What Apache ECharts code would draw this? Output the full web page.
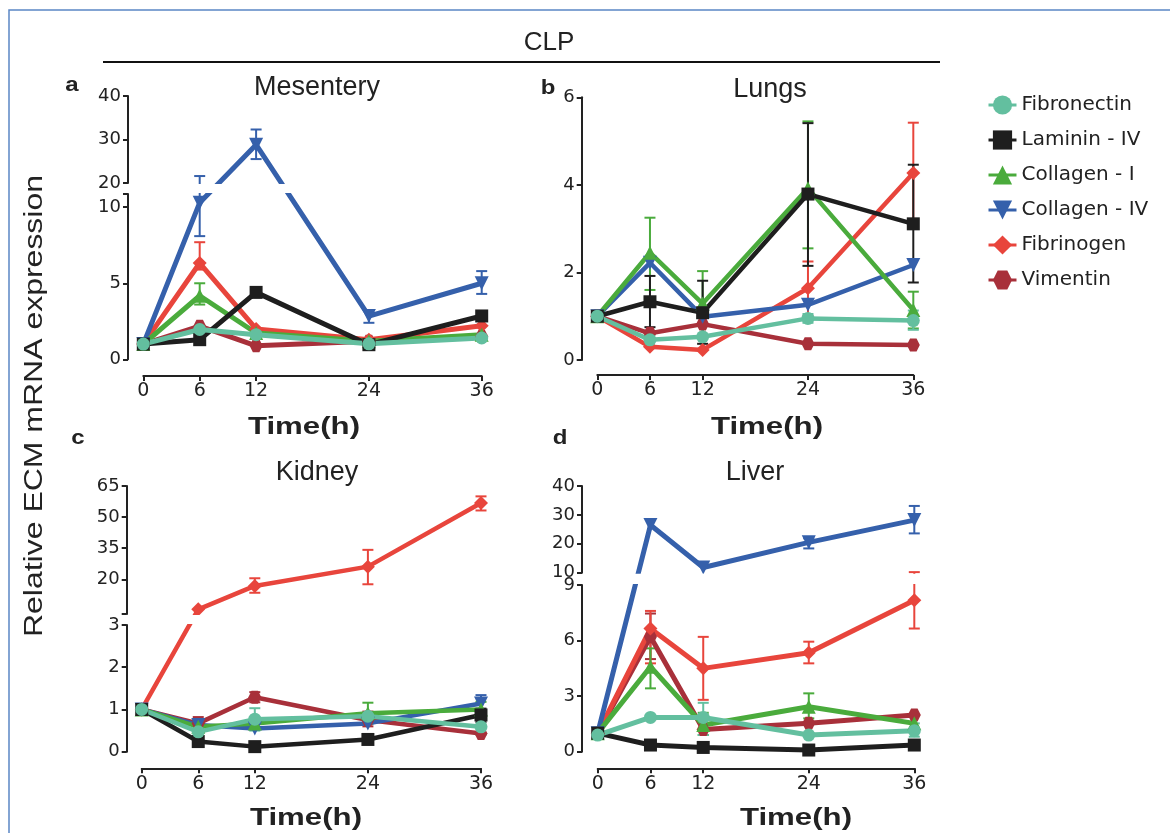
<!DOCTYPE html>
<html>
<head>
<meta charset="utf-8">
<script src="https://cdn.jsdelivr.net/npm/echarts@6/dist/echarts.min.js"></script>
<style>html,body{margin:0;padding:0;background:#fff}#chart{width:1170px;height:833px}</style>
</head>
<body>
<div id="chart"></div>
<script>
// ---------- DATA ----------
const TIME_POINTS = [0, 6, 12, 24, 36];
const X_TICK_LABELS = [0, 6, 12, 24, 36];
const GENES = ['Fibronectin', 'Laminin - IV', 'Collagen - I', 'Collagen - IV', 'Fibrinogen', 'Vimentin'];

// Mesentery (a)
const MES_UPPER_TICKS = [20, 30, 40];
const MES_LOWER_TICKS = [0, 5, 10];
const MES_FIBRONECTIN = [1, 1.96, 1.62, 1.02, 1.4];
const MES_FIBRONECTIN_ERR = [null, null, null, null, null];
const MES_LAMININ = [1, 1.29, 4.4, 0.96, 2.85];
const MES_LAMININ_ERR = [null, null, null, null, null];
const MES_COLLAGEN1 = [1, 4.18, 1.73, 1.18, 1.62];
const MES_COLLAGEN1_ERR = [null, [3.6, 5.0], null, null, null];
const MES_COLLAGEN4 = [1, 10.3, 28.8, 2.84, 5.0];
const MES_COLLAGEN4_ERR = [null, [8.1, 21.6], [25.5, 32.3], [2.4, 3.2], [4.3, 5.8]];
const MES_FIBRINOGEN = [1, 6.33, 2.0, 1.29, 2.2];
const MES_FIBRINOGEN_ERR = [null, [5.9, 7.7], null, null, [1.6, 2.8]];
const MES_VIMENTIN = [1, 2.18, 0.89, 1.18, 1.5];
const MES_VIMENTIN_ERR = [null, null, null, null, null];

// Lungs (b)
const LUNG_TICKS = [0, 2, 4, 6];
const LUNG_FIBRONECTIN = [1, 0.46, 0.53, 0.95, 0.9];
const LUNG_FIBRONECTIN_ERR = [null, null, null, [0.85, 1.05], [0.69, 1.13]];
const LUNG_LAMININ = [1, 1.33, 1.08, 3.79, 3.11];
const LUNG_LAMININ_ERR = [null, [0.75, 1.92], [0.37, 1.81], [2.15, 5.41], [1.77, 4.46]];
const LUNG_COLLAGEN1 = [1, 2.45, 1.29, 3.92, 1.14];
const LUNG_COLLAGEN1_ERR = [null, [1.6, 3.25], [0.55, 2.03], [2.55, 5.45], [0.72, 1.56]];
const LUNG_COLLAGEN4 = [1, 2.22, 0.99, 1.26, 2.17];
const LUNG_COLLAGEN4_ERR = [null, null, null, null, null];
const LUNG_FIBRINOGEN = [1, 0.3, 0.23, 1.64, 4.27];
const LUNG_FIBRINOGEN_ERR = [null, null, null, [1.0, 2.25], [3.11, 5.42]];
const LUNG_VIMENTIN = [1, 0.61, 0.82, 0.37, 0.34];
const LUNG_VIMENTIN_ERR = [null, null, null, null, null];

// Kidney (c)
const KID_UPPER_TICKS = [20, 35, 50, 65];
const KID_LOWER_TICKS = [0, 1, 2, 3];
const KID_FIBRONECTIN = [1, 0.47, 0.77, 0.84, 0.59];
const KID_FIBRONECTIN_ERR = [null, null, [0.5, 1.03], null, [0.4, 0.78]];
const KID_LAMININ = [1, 0.24, 0.12, 0.29, 0.87];
const KID_LAMININ_ERR = [null, null, null, null, [0.7, 1.02]];
const KID_COLLAGEN1 = [1, 0.59, 0.67, 0.91, 1.0];
const KID_COLLAGEN1_ERR = [null, null, null, [0.66, 1.16], [0.85, 1.18]];
const KID_COLLAGEN4 = [1, 0.63, 0.55, 0.67, 1.14];
const KID_COLLAGEN4_ERR = [null, null, null, null, [0.95, 1.34]];
const KID_FIBRINOGEN = [1, 5.5, 16.8, 26.1, 56.8];
const KID_FIBRINOGEN_ERR = [null, null, [13.5, 20.5], [17.6, 34.2], [53.2, 60.0]];
const KID_VIMENTIN = [1, 0.67, 1.29, 0.75, 0.43];
const KID_VIMENTIN_ERR = [null, [0.55, 0.82], [1.17, 1.41], [0.6, 0.95], null];

// Liver (d)
const LIV_UPPER_TICKS = [10, 20, 30, 40];
const LIV_LOWER_TICKS = [0, 3, 6, 9];
const LIV_FIBRONECTIN = [0.9, 1.85, 1.85, 0.9, 1.13];
const LIV_FIBRONECTIN_ERR = [null, null, [0.9, 2.64], null, [0.81, 1.53]];
const LIV_LAMININ = [1, 0.36, 0.23, 0.09, 0.36];
const LIV_LAMININ_ERR = [null, null, null, null, null];
const LIV_COLLAGEN1 = [1, 4.59, 1.44, 2.43, 1.53];
const LIV_COLLAGEN1_ERR = [null, [3.42, 5.58], [0.9, 2.1], [1.8, 3.15], [1.1, 1.98]];
const LIV_COLLAGEN4 = [1, 26.5, 11.8, 20.5, 28.2];
const LIV_COLLAGEN4_ERR = [null, null, null, [18.4, 21.9], [23.6, 33.1]];
const LIV_FIBRINOGEN = [1, 6.65, 4.5, 5.34, 8.18];
const LIV_FIBRINOGEN_ERR = [null, [4.77, 7.6], [2.8, 6.2], [4.77, 5.94], [6.65, 10.2]];
const LIV_VIMENTIN = [1, 6.2, 1.2, 1.53, 1.98];
const LIV_VIMENTIN_ERR = [null, [5.0, 7.46], null, null, null];

// ---------- STYLE / LAYOUT ----------
const STYLE = {
  'Fibronectin':   {color: '#63bf9f', symbol: 'circle', rotate: 0, size: 13},
  'Laminin - IV':  {color: '#1e1e1e', symbol: 'rect', rotate: 0, size: 13},
  'Collagen - I':  {color: '#4aab3c', symbol: 'triangle', rotate: 0, size: 14},
  'Collagen - IV': {color: '#3560ab', symbol: 'triangle', rotate: 180, size: 14},
  'Fibrinogen':    {color: '#e8453c', symbol: 'diamond', rotate: 0, size: 14},
  'Vimentin':      {color: '#a8303a', symbol: 'path://M0,5 L3,0 L9,0 L12,5 L9,10 L3,10 Z', rotate: 0, size: 13}
};
const DRAW_ORDER = ['Vimentin', 'Fibrinogen', 'Collagen - IV', 'Collagen - I', 'Laminin - IV', 'Fibronectin'];

const PANEL_DATA = {
  mes: {'Fibronectin': [MES_FIBRONECTIN, MES_FIBRONECTIN_ERR], 'Laminin - IV': [MES_LAMININ, MES_LAMININ_ERR],
        'Collagen - I': [MES_COLLAGEN1, MES_COLLAGEN1_ERR], 'Collagen - IV': [MES_COLLAGEN4, MES_COLLAGEN4_ERR],
        'Fibrinogen': [MES_FIBRINOGEN, MES_FIBRINOGEN_ERR], 'Vimentin': [MES_VIMENTIN, MES_VIMENTIN_ERR]},
  lung: {'Fibronectin': [LUNG_FIBRONECTIN, LUNG_FIBRONECTIN_ERR], 'Laminin - IV': [LUNG_LAMININ, LUNG_LAMININ_ERR],
        'Collagen - I': [LUNG_COLLAGEN1, LUNG_COLLAGEN1_ERR], 'Collagen - IV': [LUNG_COLLAGEN4, LUNG_COLLAGEN4_ERR],
        'Fibrinogen': [LUNG_FIBRINOGEN, LUNG_FIBRINOGEN_ERR], 'Vimentin': [LUNG_VIMENTIN, LUNG_VIMENTIN_ERR]},
  kid: {'Fibronectin': [KID_FIBRONECTIN, KID_FIBRONECTIN_ERR], 'Laminin - IV': [KID_LAMININ, KID_LAMININ_ERR],
        'Collagen - I': [KID_COLLAGEN1, KID_COLLAGEN1_ERR], 'Collagen - IV': [KID_COLLAGEN4, KID_COLLAGEN4_ERR],
        'Fibrinogen': [KID_FIBRINOGEN, KID_FIBRINOGEN_ERR], 'Vimentin': [KID_VIMENTIN, KID_VIMENTIN_ERR]},
  liv: {'Fibronectin': [LIV_FIBRONECTIN, LIV_FIBRONECTIN_ERR], 'Laminin - IV': [LIV_LAMININ, LIV_LAMININ_ERR],
        'Collagen - I': [LIV_COLLAGEN1, LIV_COLLAGEN1_ERR], 'Collagen - IV': [LIV_COLLAGEN4, LIV_COLLAGEN4_ERR],
        'Fibrinogen': [LIV_FIBRINOGEN, LIV_FIBRINOGEN_ERR], 'Vimentin': [LIV_VIMENTIN, LIV_VIMENTIN_ERR]}
};

// segments listed top (upper) to bottom (lower)
const LAYOUT = [
  {id: 'mes', left: 143.3, width: 338.4, axisX: 128, xAxisY: 376, lineW: 5,
   segs: [{top: 96, bottom: 183, min: 20, max: 40, ticks: [20, 30, 40], labels: MES_UPPER_TICKS},
          {top: 194, bottom: 359.3, min: 0, max: 10.87, ticks: [0, 5, 10, 10.87], labels: MES_LOWER_TICKS}]},
  {id: 'lung', left: 597.3, width: 316, axisX: 581.7, xAxisY: 375, lineW: 4.5,
   segs: [{top: 97.3, bottom: 360, min: 0, max: 6, ticks: [0, 2, 4, 6], labels: LUNG_TICKS}]},
  {id: 'kid', left: 141.7, width: 339.3, axisX: 126.7, xAxisY: 768.3, lineW: 4.5,
   segs: [{top: 486, bottom: 614, min: 3.26, max: 65, ticks: [3.26, 20, 35, 50, 65], labels: KID_UPPER_TICKS},
          {top: 625, bottom: 751.7, min: 0, max: 3, ticks: [0, 1, 2, 3], labels: KID_LOWER_TICKS}]},
  {id: 'liv', left: 597.7, width: 316.6, axisX: 582, xAxisY: 768.3, lineW: 5,
   segs: [{top: 486, bottom: 572.7, min: 10, max: 40, ticks: [10, 20, 30, 40], labels: LIV_UPPER_TICKS},
          {top: 585, bottom: 751.7, min: 0, max: 9, ticks: [0, 3, 6, 9], labels: LIV_LOWER_TICKS}]}
];

const AX = '#222';

// Broken-axis scale: maps a value to a height (px) above the panel's lowest segment bottom,
// linear inside each segment (each with its own scale), linear across the break gap.
function makeBrokenScale(p) {
  const segs = p.segs.slice().reverse(); // bottom first
  const base = segs[0].bottom;
  return function (v) {
    for (let i = 0; i < segs.length; i++) {
      const s = segs[i];
      const h0 = base - s.bottom, h1 = base - s.top;
      if (v <= s.max || i === segs.length - 1) {
        if (v >= s.min || i === 0) return h0 + (v - s.min) / (s.max - s.min) * (h1 - h0);
        const prev = segs[i - 1];
        const ph1 = base - prev.top;
        return ph1 + (v - prev.max) / (s.min - prev.max) * (h0 - ph1);
      }
    }
  };
}

function errRender(params, api) {
  const x = api.value(0), lo = api.value(1), hi = api.value(2);
  const a = api.coord([x, lo]), b = api.coord([x, hi]);
  const w = 5.5;
  const st = {stroke: api.visual('color'), lineWidth: 2, fill: null};
  return {type: 'group', children: [
    {type: 'line', shape: {x1: a[0], y1: a[1], x2: b[0], y2: b[1]}, style: st},
    {type: 'line', shape: {x1: b[0] - w, y1: b[1], x2: b[0] + w, y2: b[1]}, style: st},
    {type: 'line', shape: {x1: a[0] - w, y1: a[1], x2: a[0] + w, y2: a[1]}, style: st}
  ]};
}

const grids = [], xAxes = [], yAxes = [], series = [], masks = [];
LAYOUT.forEach(p => {
  // axis-only grids, one per segment, in true value units
  p.segs.forEach(seg => {
    const gi = grids.length;
    grids.push({left: p.left, top: seg.top, width: p.width, height: seg.bottom - seg.top,
                containLabel: false, outerBoundsMode: 'none'});
    xAxes.push({gridIndex: gi, type: 'value', min: 0, max: 36, show: false});
    yAxes.push({gridIndex: gi, type: 'value', min: seg.min, max: seg.max, position: 'left',
      offset: p.left - p.axisX,
      axisLine: {show: true, onZero: false, lineStyle: {color: AX, width: 2}},
      axisTick: {show: true, length: 5, lineStyle: {color: AX, width: 2}, customValues: seg.ticks},
      axisLabel: {show: true, customValues: seg.labels, fontSize: 18, fontFamily: 'DejaVu Sans', color: AX, margin: 7},
      splitLine: {show: false}});
  });
  // plotting grid spanning all segments, broken scale
  const top = p.segs[0].top, bottom = p.segs[p.segs.length - 1].bottom;
  const scale = makeBrokenScale(p);
  const gi = grids.length;
  grids.push({left: p.left, top: top, width: p.width, height: bottom - top, containLabel: false, outerBoundsMode: 'none'});
  xAxes.push({gridIndex: gi, type: 'value', min: 0, max: 36, show: false});
  yAxes.push({gridIndex: gi, type: 'value', min: 0, max: bottom - top, show: false});
  DRAW_ORDER.forEach(gene => {
    const st = STYLE[gene];
    const [vals, errs] = PANEL_DATA[p.id][gene];
    series.push({
      type: 'line', name: gene, xAxisIndex: gi, yAxisIndex: gi,
      data: TIME_POINTS.map((t, i) => [t, scale(vals[i])]),
      symbol: st.symbol, symbolSize: st.size, symbolRotate: st.rotate,
      itemStyle: {color: st.color, borderWidth: 0},
      lineStyle: {color: st.color, width: p.lineW},
      clip: false, animation: false, silent: true, z: 3
    });
    const errData = [];
    errs.forEach((e, i) => { if (e) errData.push([TIME_POINTS[i], scale(e[0]), scale(e[1])]); });
    if (errData.length) {
      series.push({
        type: 'custom', name: gene + ' err', xAxisIndex: gi, yAxisIndex: gi,
        renderItem: errRender, data: errData, itemStyle: {color: st.color},
        encode: {x: 0, y: [1, 2]}, clip: false, animation: false, silent: true, z: 3
      });
    }
  });
  // break gap between segments
  for (let i = 0; i < p.segs.length - 1; i++) {
    const y0 = p.segs[i].bottom + 1, y1 = p.segs[i + 1].top - 1;
    masks.push({type: 'rect', silent: true, z: 100,
      shape: {x: p.axisX + 1.5, y: y0, width: p.left + p.width + 10 - p.axisX, height: y1 - y0},
      style: {fill: '#ffffff'}});
  }
  // detached x axis
  const gx = grids.length;
  grids.push({left: p.left, top: p.xAxisY - 1, width: p.width, height: 1, containLabel: false, outerBoundsMode: 'none'});
  xAxes.push({gridIndex: gx, type: 'value', min: 0, max: 36, position: 'bottom',
    axisLine: {show: true, onZero: false, lineStyle: {color: AX, width: 2}},
    axisTick: {show: true, length: 5, lineStyle: {color: AX, width: 2}, customValues: X_TICK_LABELS},
    axisLabel: {show: true, customValues: X_TICK_LABELS, fontSize: 19, fontFamily: 'DejaVu Sans', color: AX, margin: 6},
    splitLine: {show: false}});
  yAxes.push({gridIndex: gx, type: 'value', show: false});
});

function txt(x, y, text, font, opts) {
  return Object.assign({type: 'text', x: x, y: y, silent: true,
    style: {text: text, font: font, fill: '#222', align: 'center', verticalAlign: 'middle',
            textAlign: 'center', textVerticalAlign: 'middle'}}, opts || {});
}
const F = '"Liberation Sans", Arial, sans-serif';
const graphics = masks.concat([
  {type: 'polyline', silent: true, shape: {points: [[9, 833], [9, 10], [1170, 10]]}, style: {stroke: '#5b86c5', lineWidth: 1.5, fill: null}},
  {type: 'line', silent: true, shape: {x1: 103, y1: 62, x2: 940, y2: 62}, style: {stroke: '#111', lineWidth: 2}},
  txt(549, 43, 'CLP', '26px ' + F),
  txt(72, 85, 'a', 'bold 20px ' + F, {scaleX: 1.2}),
  txt(548, 88, 'b', 'bold 20px ' + F, {scaleX: 1.2}),
  txt(78, 438, 'c', 'bold 20px ' + F, {scaleX: 1.2}),
  txt(560, 438, 'd', 'bold 20px ' + F, {scaleX: 1.2}),
  txt(317, 88, 'Mesentery', '27px ' + F),
  txt(770, 90, 'Lungs', '27px ' + F),
  txt(317, 473, 'Kidney', '27px ' + F),
  txt(755, 473, 'Liver', '27px ' + F),
  txt(304, 427, 'Time(h)', 'bold 24px ' + F, {scaleX: 1.3}),
  txt(767, 427, 'Time(h)', 'bold 24px ' + F, {scaleX: 1.3}),
  txt(306, 818, 'Time(h)', 'bold 24px ' + F, {scaleX: 1.3}),
  txt(796, 818, 'Time(h)', 'bold 24px ' + F, {scaleX: 1.3}),
  txt(35, 406, 'Relative ECM mRNA expression', '26px ' + F, {rotation: Math.PI / 2, scaleX: 1.23})
]);

const chart = echarts.init(document.getElementById('chart'), null, {renderer: 'canvas'});
chart.setOption({
  backgroundColor: '#ffffff',
  animation: false,
  grid: grids, xAxis: xAxes, yAxis: yAxes, series: series,
  legend: {
    data: GENES, orient: 'vertical', left: 982, top: 90, itemWidth: 28, itemHeight: 24, itemGap: 15,
    selectedMode: false, lineStyle: {width: 3},
    textStyle: {fontFamily: 'DejaVu Sans', fontSize: 20, color: '#222'}
  },
  graphic: graphics
});
</script>
</body>
</html>
